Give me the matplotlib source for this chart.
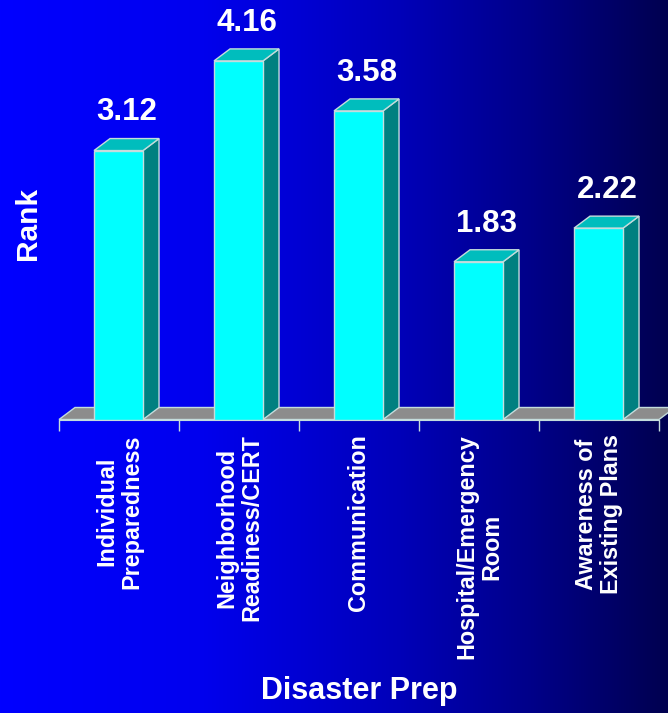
#! /usr/bin/env python
# -*- coding: utf-8 -*-

import numpy as np
from matplotlib import pyplot as plt
from matplotlib.colors import LinearSegmentedColormap

categories = ["Individual\nPreparedness", "Neighborhood\nReadiness/CERT", "Communication",
              "Hospital/Emergency\nRoom", "Awareness of\nExisting Plans"]
ranks = [3.12, 4.16, 3.58, 1.83, 2.22]
valueLabels = ["3.12", "4.16", "3.58", "1.83", "2.22"]

plt.rcParams['font.family'] = ['Liberation Sans', 'DejaVu Sans']
plt.rcParams['font.weight'] = 'bold'

W, H = 668, 713
lineCol = '#c4dcdc'

fig = plt.figure(figsize=(W / 100, H / 100), dpi=100)

# Background gradient
bg = fig.add_axes([0, 0, 1, 1])
blues = LinearSegmentedColormap.from_list("bg", [(0, '#0000ff'), (0.3, '#0000ee'), (0.6, '#0000b8'),
                                                 (0.8, '#000088'), (1, '#000050')])
bg.imshow(np.linspace(0, 1, 256).reshape(1, -1), aspect='auto', cmap=blues)
bg.axis('off')

# Plot area, baseline at y=419.5 px
ax = fig.add_axes([59 / W, (H - 419.5) / H, 600 / W, 419.5 / H])
ax.patch.set_alpha(0)
ax.set_xlim(0, 5)
ax.set_ylim(0, 419.5 / 86.2)

barWidth = 49 / 120
dx = 16 / 120
dy = 12 / 86.2

# Floor
ax.fill([0, dx, 5 + dx, 5], [0, dy, dy, 0], facecolor='#8c8c8c', edgecolor=lineCol,
        linewidth=1, clip_on=False, zorder=1)

# 3D bars
xs = np.arange(len(ranks)) + 0.5
barXs = xs - 0.004
ax.bar(barXs, ranks, width=barWidth, color='#00ffff', edgecolor=lineCol, linewidth=1, zorder=3)
for x, r, lab in zip(barXs, ranks, valueLabels):
    l = x - barWidth / 2
    rr = x + barWidth / 2
    ax.fill([rr, rr + dx, rr + dx, rr], [0, dy, r + dy, r], facecolor='#008080',
            edgecolor=lineCol, linewidth=1, zorder=2)
    ax.fill([l, l + dx, rr + dx, rr], [r, r + dy, r + dy, r], facecolor='#00bdbd',
            edgecolor=lineCol, linewidth=1, zorder=2)
    ax.annotate(lab, (x, r + dy), xytext=(6, 8), textcoords='offset points', ha='center',
                va='bottom', color='white', fontsize=22.5, fontweight='bold', annotation_clip=False)

# Axes
for s in ['top', 'left', 'right']:
    ax.spines[s].set_visible(False)
ax.spines['bottom'].set_color(lineCol)
ax.spines['bottom'].set_zorder(4)
ax.set_yticks([])
ax.set_xticks(np.arange(0, 6))
ax.set_xticklabels([])
ax.tick_params(axis='x', which='major', length=8, width=1, color=lineCol)
ax.set_xticks(xs, minor=True)
ax.set_xticklabels(categories, minor=True, rotation=90, ha='center', va='top', multialignment='center',
                   color='white', fontsize=16.8, fontweight='bold', linespacing=1.12)
ax.tick_params(axis='x', which='minor', length=0, pad=10.5)

ax.set_ylabel("Rank", color='white', fontsize=21.5, fontweight='bold', va='center')
ax.yaxis.set_label_coords(-0.051, 0.468)
ax.set_xlabel("Disaster Prep", color='white', fontsize=22, fontweight='bold', va='center')
ax.xaxis.set_label_coords(0.5, -0.647)

plt.savefig("out.png", dpi=100)
